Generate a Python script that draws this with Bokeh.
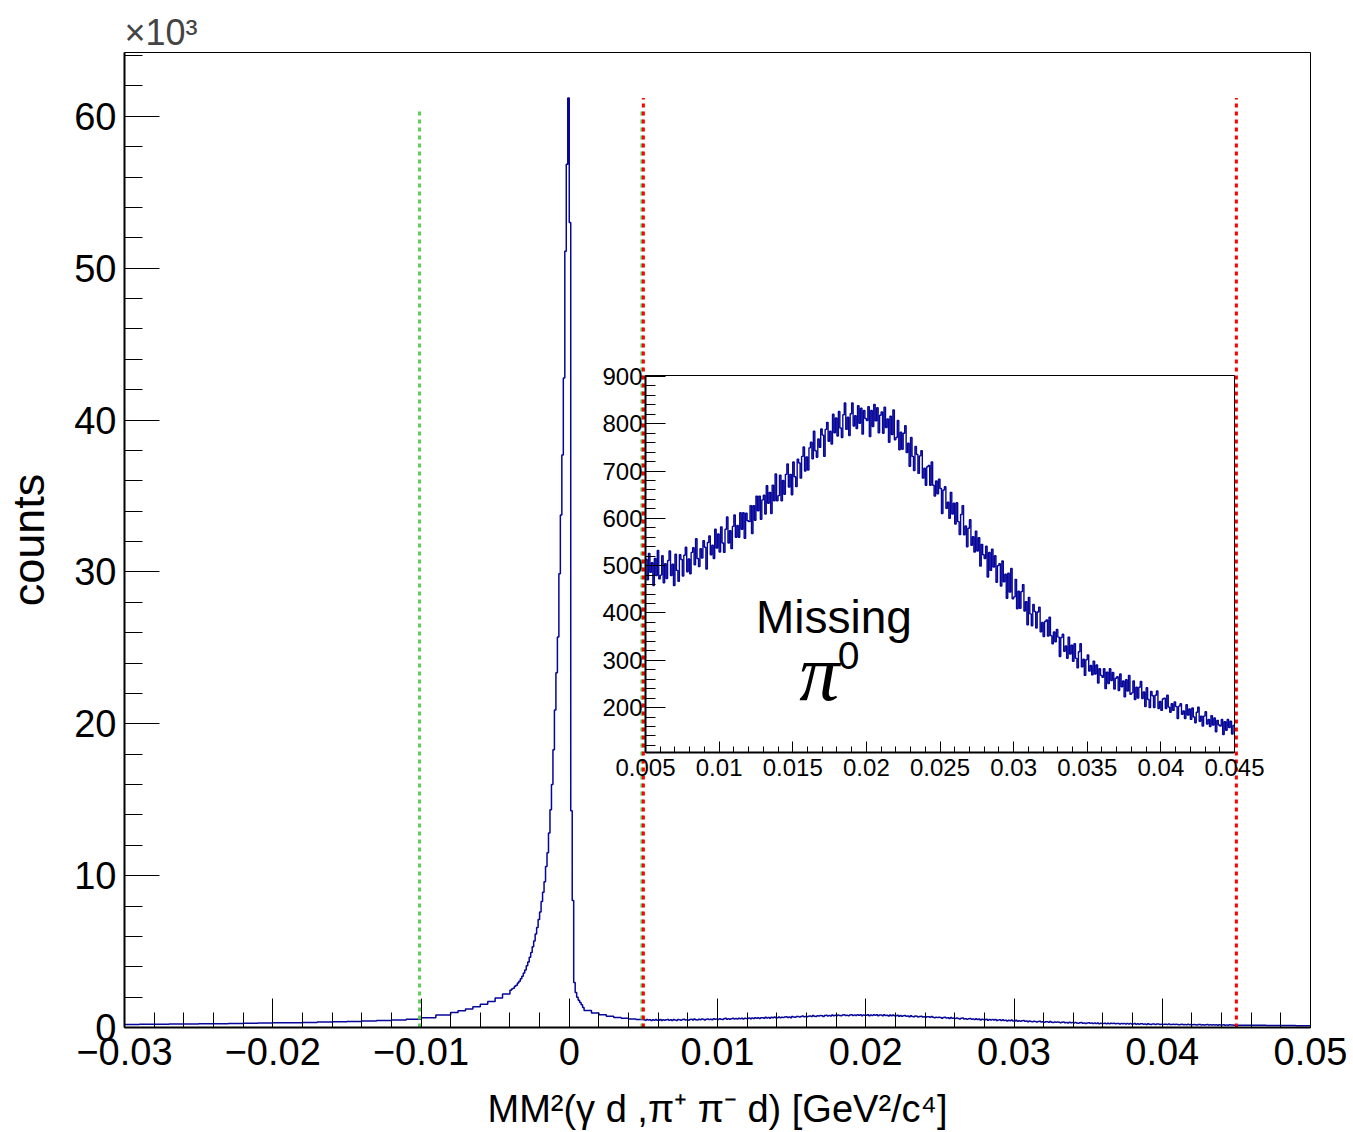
import numpy as np
from bokeh.plotting import figure
from bokeh.models import Range1d, FixedTicker, Label, CustomJSTickFormatter
from bokeh.layouts import column
from bokeh.embed import file_html
from bokeh.resources import INLINE

# ---------------- data (counts per bin) ----------------
# left tail, -0.030 .. -0.008, 22 bins
tail_left_counts = [205, 210, 215, 225, 230, 240, 250, 262, 275, 290,
                    305, 320, 335, 355, 375, 400, 425, 455, 490, 540, 650, 830]
# rising radiative tail, -0.008 .. -0.004, 8 bins
rise_counts = [990, 1100, 1220, 1370, 1530, 1720, 1950, 2200]
# peak region, -0.004 .. 0.001, 50 bins
peak_counts = [2450, 2530, 2590, 2710, 2790, 2930, 3040, 3210, 3370, 3590,
               3790, 4060, 4310, 4630, 4940, 5310, 5690, 6160, 6590, 7110,
               7600, 8300, 8900, 9600, 10600, 11500, 12800, 14340, 16000, 18290,
               20900, 23360, 25720, 29870, 33750, 37700, 42760, 51120, 56840, 61200,
               53000, 14280, 8360, 2960, 2300, 2000, 1800, 1650, 1500, 1320]
# falling edge, 0.001 .. 0.005, 8 bins
fall_counts = [1120, 950, 840, 740, 660, 610, 560, 520]
# missing pi0 bump, 0.005 .. 0.045, 400 bins (also shown in the inset)
pi0_counts = [
    513, 470, 526, 486, 506, 458, 515, 479, 532, 472,
    480, 521, 464, 504, 473, 511, 531, 479, 503, 458,
    524, 490, 467, 523, 513, 478, 522, 539, 487, 514,
    483, 528, 538, 502, 557, 515, 498, 536, 516, 553,
    539, 493, 549, 563, 523, 543, 515, 577, 537, 567,
    529, 582, 548, 528, 577, 603, 548, 574, 536, 583,
    607, 560, 585, 560, 612, 577, 612, 558, 611, 595,
    593, 627, 568, 627, 596, 647, 616, 647, 598, 639,
    649, 609, 669, 632, 655, 610, 670, 637, 694, 637,
    648, 691, 637, 680, 651, 693, 715, 666, 693, 650,
    719, 688, 667, 725, 717, 685, 731, 751, 700, 730,
    702, 749, 761, 726, 784, 743, 729, 768, 750, 789,
    776, 731, 788, 803, 763, 784, 757, 820, 781, 812,
    774, 826, 791, 771, 819, 844, 788, 814, 775, 821,
    844, 795, 817, 790, 838, 801, 833, 778, 828, 811,
    807, 836, 773, 828, 794, 841, 806, 834, 781, 818,
    825, 780, 835, 792, 810, 761, 816, 777, 829, 766,
    771, 807, 745, 782, 746, 780, 796, 739, 759, 710,
    771, 731, 701, 752, 735, 695, 732, 743, 685, 706,
    670, 709, 712, 670, 719, 670, 647, 679, 652, 683,
    663, 610, 660, 667, 621, 634, 600, 655, 609, 632,
    588, 633, 593, 566, 608, 627, 565, 584, 540, 579,
    597, 543, 561, 529, 573, 531, 559, 499, 545, 523,
    515, 541, 476, 528, 490, 535, 497, 521, 465, 500,
    504, 457, 510, 466, 482, 431, 484, 444, 494, 430,
    434, 471, 409, 446, 410, 445, 460, 404, 424, 375,
    433, 398, 373, 418, 403, 368, 402, 412, 360, 380,
    350, 382, 385, 351, 391, 352, 335, 360, 339, 365,
    349, 308, 348, 355, 319, 330, 304, 349, 313, 332,
    298, 335, 304, 284, 318, 335, 286, 302, 268, 301,
    311, 277, 289, 269, 298, 271, 290, 252, 282, 268,
    264, 282, 240, 275, 251, 282, 257, 274, 239, 262,
    265, 236, 271, 244, 256, 223, 259, 235, 268, 228,
    231, 256, 217, 243, 220, 243, 255, 219, 233, 202,
    242, 217, 200, 234, 225, 200, 226, 235, 198, 213,
    194, 218, 220, 198, 226, 201, 190, 208, 194, 212,
    202, 177, 203, 208, 186, 193, 177, 206, 184, 197,
    175, 199, 180, 168, 190, 201, 171, 182, 161, 182,
    191, 165, 175, 160, 183, 163, 178, 149, 173, 163,
    161, 175, 143, 170, 152, 175, 158, 171, 144, 162]
# right tail, 0.045 .. 0.050, 5 bins
tail_right_counts = [150, 142, 135, 128, 122]

# bin ranges of each block: (low edge, high edge)
block_ranges = [(-0.030, -0.008), (-0.008, -0.004), (-0.004, 0.001),
                (0.001, 0.005), (0.005, 0.045), (0.045, 0.050)]
block_counts = [tail_left_counts, rise_counts, peak_counts,
                fall_counts, pi0_counts, tail_right_counts]

# cut lines
green_cuts = [-0.0101, 0.0049]
green_top = 60500
red_cuts = [0.005, 0.045]
red_top = 61200

# axes
main_x_range = (-0.03, 0.05)
main_y_range = (0, 64200)
main_x_ticks = [-0.03, -0.02, -0.01, 0.0, 0.01, 0.02, 0.03, 0.04, 0.05]
main_x_minor = [round(v, 4) for v in np.arange(-0.03, 0.0501, 0.002)]
main_y_ticks = [0, 10000, 20000, 30000, 40000, 50000, 60000]
main_y_minor = list(range(0, 64001, 2000))

inset_x_range = (0.005, 0.045)
inset_y_range = (105, 902)
inset_x_ticks = [0.005, 0.01, 0.015, 0.02, 0.025, 0.03, 0.035, 0.04, 0.045]
inset_x_minor = [round(v, 4) for v in np.arange(0.005, 0.0451, 0.001)]
inset_y_ticks = [200, 300, 400, 500, 600, 700, 800, 900]
inset_y_minor = list(range(120, 901, 20))

# ---------------- build histogram outlines ----------------
edges = [block_ranges[0][0]]
counts = []
for (lo, hi), c in zip(block_ranges, block_counts):
    e = np.linspace(lo, hi, len(c) + 1)
    edges.extend(e[1:].tolist())
    counts.extend(c)
step_x = edges
step_y = counts + [counts[-1]]

pi0_edges = np.linspace(inset_x_range[0], inset_x_range[1], len(pi0_counts) + 1).tolist()
pi0_step_y = pi0_counts + [pi0_counts[-1]]

FONT = "Liberation Sans"
HCOL = "#06069a"

# ---------------- main figure ----------------
p = figure(width=1353, height=1132,
           x_range=Range1d(*main_x_range), y_range=Range1d(*main_y_range),
           output_backend="svg", toolbar_location=None,
           min_border_left=124, min_border_right=43, min_border_top=52, min_border_bottom=104,
           title="×10³")
p.title.text_font = FONT
p.title.text_font_size = "36px"
p.title.text_font_style = "normal"
p.title.align = "left"
p.title.standoff = 0
p.title.offset = 0
p.grid.visible = False
p.outline_line_color = "black"
p.outline_line_width = 1
p.background_fill_color = "white"
p.border_fill_color = "white"

p.xaxis.ticker = FixedTicker(ticks=main_x_ticks, minor_ticks=main_x_minor)
p.yaxis.ticker = FixedTicker(ticks=main_y_ticks, minor_ticks=main_y_minor)
p.xaxis.formatter = CustomJSTickFormatter(code="""
const s = parseFloat(Math.abs(tick).toFixed(4)).toString();
return (tick < -1e-12 ? "\\u2212" : "") + s;""")
p.yaxis.formatter = CustomJSTickFormatter(code="return (tick/1000).toFixed(0);")

for ax in (p.xaxis, p.yaxis):
    ax.axis_line_width = 2
    ax.axis_line_color = "black"
    ax.major_tick_out = 0
    ax.minor_tick_out = 0
    ax.major_tick_line_width = 1
    ax.minor_tick_line_width = 1
    ax.major_label_text_font = FONT
    ax.major_label_text_font_size = "38px"
    ax.major_label_text_color = "black"
    ax.axis_label_text_font = FONT
    ax.axis_label_text_font_style = "normal"
    ax.axis_label_text_color = "black"

p.xaxis.major_tick_in = 29
p.xaxis.minor_tick_in = 15
p.yaxis.major_tick_in = 35
p.yaxis.minor_tick_in = 18
p.xaxis.major_label_standoff = 10
p.yaxis.major_label_standoff = 8
p.xaxis.axis_label = "MM²(γ d ,π⁺ π⁻ d) [GeV²/c⁴]"
p.yaxis.axis_label = "counts"
p.xaxis.axis_label_text_font_size = "38px"
p.yaxis.axis_label_text_font_size = "45px"
p.xaxis.axis_label_standoff = 20
p.yaxis.axis_label_standoff = 17

p.step(step_x, step_y, mode="after", line_color=HCOL, line_width=1.5)

p.segment(x0=green_cuts, y0=[0] * len(green_cuts), x1=green_cuts, y1=[green_top] * len(green_cuts),
          line_color="#5ccf5c", line_width=3, line_dash="4 4")
p.segment(x0=red_cuts, y0=[0] * len(red_cuts), x1=red_cuts, y1=[red_top] * len(red_cuts),
          line_color="#ff0000", line_width=3, line_dash="4 4")

# ---------------- inset figure ----------------
# (a column aligns the side borders of its children, so the inset keeps the
#  main figure's left/right border widths)
q = figure(width=756, height=442,
           x_range=Range1d(*inset_x_range), y_range=Range1d(*inset_y_range),
           output_backend="svg", toolbar_location=None,
           min_border_left=124, min_border_right=43, min_border_top=30, min_border_bottom=35,
           background_fill_color=None, border_fill_color=None)
q.styles = {"position": "absolute", "left": "521px", "top": "345px", "z-index": "5"}
q.grid.visible = False
q.outline_line_color = "black"
q.outline_line_width = 1

q.xaxis.ticker = FixedTicker(ticks=inset_x_ticks, minor_ticks=inset_x_minor)
q.yaxis.ticker = FixedTicker(ticks=inset_y_ticks, minor_ticks=inset_y_minor)
q.xaxis.formatter = CustomJSTickFormatter(code="return parseFloat(tick.toFixed(4)).toString();")
for ax in (q.xaxis, q.yaxis):
    ax.axis_line_width = 2
    ax.axis_line_color = "black"
    ax.major_tick_out = 0
    ax.minor_tick_out = 0
    ax.major_tick_line_width = 1
    ax.minor_tick_line_width = 1
    ax.major_label_text_font = FONT
    ax.major_label_text_font_size = "24px"
    ax.major_label_text_color = "black"
q.xaxis.major_tick_in = 11
q.xaxis.minor_tick_in = 6
q.yaxis.major_tick_in = 20
q.yaxis.minor_tick_in = 10
q.xaxis.major_label_standoff = 6
q.yaxis.major_label_standoff = 3

q.step(pi0_edges, pi0_step_y, mode="after", line_color=HCOL, line_width=1.4)

q.add_layout(Label(x=0.0178, y=392, text="Missing", text_font=FONT, text_font_size="46px",
                   text_align="center", text_baseline="alphabetic", text_color="black"))
q.add_layout(Label(x=0.0168, y=274, text="π", text_font="Liberation Serif", text_font_size="80px",
                   text_font_style="italic", text_align="center", text_baseline="alphabetic",
                   text_color="black"))
q.add_layout(Label(x=0.01879, y=310, text="0", text_font=FONT, text_font_size="39px",
                   text_align="center", text_baseline="alphabetic", text_color="black"))

layout = column(p, q)
open("out.html", "w").write(file_html(layout, INLINE))
